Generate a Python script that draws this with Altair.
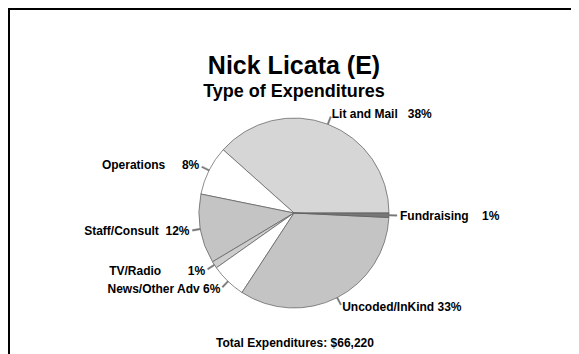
import math
import altair as alt
import pandas as pd

# ---- data ----
categories = ["Lit and Mail", "Operations", "Staff/Consult", "TV/Radio",
              "News/Other Adv", "Uncoded/InKind", "Fundraising"]
amounts = [25430, 5560, 7810, 790, 3970, 22160, 500]
pct_labels = ["38%", "8%", "12%", "1%", "6%", "33%", "1%"]
label_gaps = [3, 5, 2, 8, 1, 1, 4]
fills = ["#d6d6d6", "#ffffff", "#c4c4c4", "#cdcdcd", "#ffffff", "#c4c4c4", "#777777"]

title_text = "Nick Licata (E)"
subtitle_text = "Type of Expenditures"
total = sum(amounts)
footer_text = f"Total Expenditures: ${total:,}"

df = pd.DataFrame({
    "idx": list(range(len(categories))),
    "category": categories,
    "amount": amounts,
    "label": [c + "\u00a0" * g + p for c, p, g in zip(categories, pct_labels, label_gaps)],
})

FONT = "Liberation Sans"
W, H = 563, 346
CX, CY = 286, 205
R = 95

theta_scale = alt.Scale(domain=[0, total], range=[2.5 * math.pi, 0.5 * math.pi])

base = (
    alt.Chart(df)
    .transform_joinaggregate(total="sum(amount)")
    .transform_window(cum_end="sum(amount)", sort=[alt.SortField("idx")], frame=[None, 0])
    .transform_calculate(
        cum_start="datum.cum_end - datum.amount",
        mid="datum.cum_end - datum.amount / 2",
    )
    .transform_calculate(
        right="cos(2 * PI * datum.mid / datum.total) >= 0",
        l1="datum.mid - datum.total * 0.0012",
        l2="datum.mid + datum.total * 0.0012",
    )
    .transform_calculate(
        label_r="datum.right ? datum.label : ''",
        label_l="datum.right ? '' : datum.label",
    )
)

pie = base.mark_arc(radius=R, stroke="#5a5a5a", strokeWidth=0.7).encode(
    theta=alt.Theta("cum_start:Q", scale=theta_scale, stack=None),
    theta2="cum_end:Q",
    fill=alt.Fill("category:N", scale=alt.Scale(domain=categories, range=fills), legend=None),
    x=alt.value(CX),
    y=alt.value(CY),
)

leaders = base.mark_arc(radius=R + 8, radius2=R, fill="#777777", stroke="#777777",
                        strokeWidth=0.4).encode(
    theta=alt.Theta("l1:Q", scale=theta_scale, stack=None),
    theta2="l2:Q",
    x=alt.value(CX),
    y=alt.value(CY),
)

lab_r = base.mark_text(radius=R + 11, align="left", baseline="middle", font=FONT,
                       fontSize=12, fontWeight="bold", color="black").encode(
    theta=alt.Theta("mid:Q", scale=theta_scale, stack=None),
    text="label_r:N",
    x=alt.value(CX),
    y=alt.value(CY),
)

lab_l = base.mark_text(radius=R + 11, align="right", baseline="middle", font=FONT,
                       fontSize=12, fontWeight="bold", color="black").encode(
    theta=alt.Theta("mid:Q", scale=theta_scale, stack=None),
    text="label_l:N",
    x=alt.value(CX),
    y=alt.value(CY),
)

title = alt.Chart(pd.DataFrame({"t": [title_text]})).mark_text(
    font=FONT, fontSize=25, fontWeight="bold", align="center", baseline="alphabetic", color="black"
).encode(text="t:N", x=alt.value(CX), y=alt.value(66))

subtitle = alt.Chart(pd.DataFrame({"t": [subtitle_text]})).mark_text(
    font=FONT, fontSize=18, fontWeight="bold", align="center", baseline="alphabetic", color="black"
).encode(text="t:N", x=alt.value(CX), y=alt.value(89))

footer = alt.Chart(pd.DataFrame({"t": [footer_text]})).mark_text(
    font=FONT, fontSize=12, fontWeight="bold", align="center", baseline="middle", color="black"
).encode(text="t:N", x=alt.value(CX + 1), y=alt.value(335))

frame_left = alt.Chart(pd.DataFrame({"t": [0]})).mark_rule(color="black", strokeWidth=2).encode(
    x=alt.value(1), y=alt.value(0), y2=alt.value(H))
frame_top = alt.Chart(pd.DataFrame({"t": [0]})).mark_rule(color="black", strokeWidth=2).encode(
    x=alt.value(0), x2=alt.value(W), y=alt.value(1))

chart = (
    alt.layer(frame_left, frame_top, title, subtitle, pie, leaders, lab_r, lab_l, footer)
    .properties(width=W, height=H, padding=0, autosize=alt.AutoSizeParams(type="none"),
                background="white")
    .configure_view(stroke=None)
)

chart.save("out.html", embed_options={"renderer": "svg", "actions": False})
